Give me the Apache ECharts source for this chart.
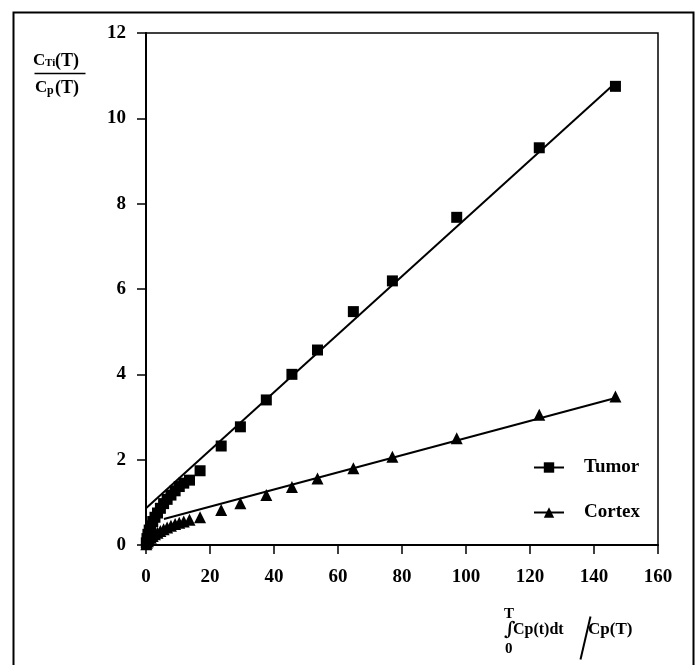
<!DOCTYPE html>
<html><head><meta charset="utf-8">
<script src="https://cdn.jsdelivr.net/npm/echarts@6/dist/echarts.min.js"></script>
<style>html,body{margin:0;padding:0;background:#fff}#c{width:697px;height:665px}</style>
</head><body><div id="c"></div>
<script>
// x = integral Cp dt / Cp(T), shared by both tissues
const xValues = [0.1,0.3,0.6,1.0,1.5,2.1,2.8,3.6,4.5,5.5,6.6,7.8,9.1,10.4,11.8,13.6,16.9,23.5,29.5,37.6,45.6,53.6,64.8,77.0,97.1,122.9,146.7];
const tumorValues = [0.05,0.15,0.25,0.35,0.45,0.55,0.65,0.75,0.86,0.97,1.07,1.17,1.27,1.37,1.45,1.52,1.74,2.32,2.77,3.40,4.00,4.57,5.47,6.19,7.68,9.31,10.75];
const cortexValues = [0.02,0.05,0.09,0.13,0.17,0.21,0.25,0.29,0.33,0.37,0.41,0.45,0.49,0.52,0.55,0.59,0.65,0.82,0.98,1.17,1.36,1.56,1.80,2.07,2.50,3.05,3.48];
// regression lines
const tumorFitX = [0, 147];
const tumorFitY = [0.86, 10.85];
const cortexFitX = [5.6, 147];
const cortexFitY = [0.61, 3.45];
const seriesNames = ['Tumor', 'Cortex'];

const pair = (xs, ys) => xs.map((x, i) => [x, ys[i]]);
const FONT = '"Liberation Serif", "Times New Roman", serif';
const chart = echarts.init(document.getElementById('c'));
const txt = (x, y, s, size, align, fam) => ({
  type: 'text', left: x, top: y,
  style: { text: s, x: 0, y: 0, fill: '#000', font: 'bold ' + size + 'px ' + (fam || FONT), textAlign: align || 'left', textVerticalAlign: 'middle' }
});
chart.setOption({
  animation: false,
  backgroundColor: '#fff',
  grid: { left: 146, right: 39, top: 33, bottom: 120, show: true, borderColor: '#000', borderWidth: 1.5 },
  xAxis: {
    type: 'value', min: 0, max: 160, interval: 20,
    axisLine: { show: true, onZero: false, lineStyle: { color: '#000', width: 2 } },
    axisTick: { show: true, length: 9, inside: false, lineStyle: { color: '#000', width: 1.5 } },
    axisLabel: { margin: 23, color: '#000', fontFamily: FONT, fontWeight: 'bold', fontSize: 19 },
    splitLine: { show: false }
  },
  yAxis: {
    type: 'value', min: 0, max: 12, interval: 2,
    axisLine: { show: true, onZero: false, lineStyle: { color: '#000', width: 2 } },
    axisTick: { show: true, length: 9, inside: false, lineStyle: { color: '#000', width: 1.5 } },
    axisLabel: { margin: 20, color: '#000', fontFamily: FONT, fontWeight: 'bold', fontSize: 19 },
    splitLine: { show: false }
  },
  legend: {
    data: seriesNames, orient: 'vertical', left: 533, top: 458, padding: 0,
    itemWidth: 30, itemHeight: 13, itemGap: 26,
    lineStyle: { color: '#000', width: 2, opacity: 1, type: 'solid' },
    textStyle: { color: '#000', fontFamily: FONT, fontWeight: 'bold', fontSize: 19, padding: [0, 0, 0, 15] }
  },
  series: [
    { name: 'Tumor', type: 'line', data: pair(xValues, tumorValues), symbol: 'rect', symbolSize: 11,
      itemStyle: { color: '#000' }, lineStyle: { width: 0, opacity: 0 }, z: 3 },
    { name: 'Cortex', type: 'line', data: pair(xValues, cortexValues), symbol: 'triangle', symbolSize: 12,
      itemStyle: { color: '#000' }, lineStyle: { width: 0, opacity: 0 }, z: 3 },
    { name: 'TumorFit', type: 'line', data: pair(tumorFitX, tumorFitY), showSymbol: false, symbol: 'none',
      lineStyle: { color: '#000', width: 2 }, z: 2 },
    { name: 'CortexFit', type: 'line', data: pair(cortexFitX, cortexFitY), showSymbol: false, symbol: 'none',
      lineStyle: { color: '#000', width: 2 }, z: 2 }
  ],
  graphic: [
    { type: 'rect', left: 11, top: 10, shape: { x: 0, y: 0, width: 680, height: 700 }, style: { fill: 'none', stroke: '#000', lineWidth: 2 } },
    // y-axis title: C_Ti(T) / C_p(T)
    txt(33, 52, 'C', 17), txt(45, 58, 'Ti', 11), txt(55, 52, '(T)', 18),
    { type: 'line', left: 32, top: 71, shape: { x1: 0, y1: 0, x2: 51, y2: 0 }, style: { stroke: '#000', lineWidth: 1.5 } },
    txt(35, 79, 'C', 17), txt(47, 85, 'p', 12), txt(55, 79, '(T)', 18),
    // x-axis title
    txt(504, 607, 'T', 15), txt(504, 621, '\u222B', 19, 'left', '"DejaVu Serif", serif'), txt(513, 622, 'Cp(t)dt', 16), txt(505, 642, '0', 15),
    { type: 'line', left: 578, top: 614, shape: { x1: 0, y1: 43, x2: 10, y2: 0 }, style: { stroke: '#000', lineWidth: 2 } },
    txt(588, 621, 'Cp(T)', 17)
  ]
});
</script></body></html>
